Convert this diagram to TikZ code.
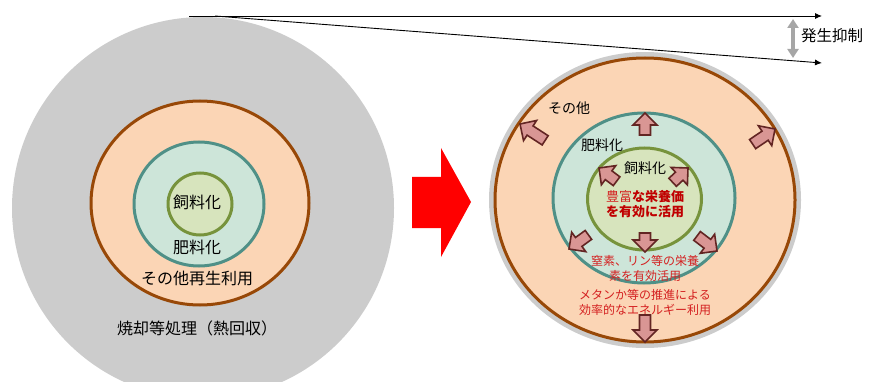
\documentclass[tikz,border=0pt]{standalone}
\usepackage{fontspec}
\setmainfont{Noto Sans CJK JP}
\usetikzlibrary{arrows.meta}
\definecolor{cgray}{HTML}{CCCCCC}
\definecolor{cpeach}{HTML}{FBD5B5}
\definecolor{cbrown}{HTML}{984807}
\definecolor{cteal}{HTML}{CDE5D9}
\definecolor{ctealb}{HTML}{4F9087}
\definecolor{cgreen}{HTML}{D7E4BD}
\definecolor{cgreenb}{HTML}{77933C}
\definecolor{cpink}{HTML}{D99694}
\definecolor{cdark}{HTML}{632523}
\definecolor{cred}{HTML}{D42020}
\definecolor{cdred}{HTML}{C00000}
\definecolor{carrgray}{HTML}{A6A6A6}
\tikzset{
  ring/.style={line width=3pt},
  lbl/.style={inner sep=0pt, font=\fontsize{16}{18}\selectfont},
  rlbl/.style={inner sep=0pt, font=\fontsize{14}{16}\selectfont},
  redlbl/.style={inner sep=0pt, text=cred, align=center, font=\fontsize{12}{15}\selectfont},
  barrowstyle/.style={fill=cpink, draw=cdark, line width=1.6pt, line join=miter},
  thinarrow/.style={line width=0.9pt, -{Latex[length=7pt,width=6pt]}},
}
\newcommand\barrow[3]{%
  \draw[barrowstyle, shift={#1}, rotate=#2] (0,0) -- (-12,12) -- (-12,5.5) -- (-#3,5.5) -- (-#3,-5.5) -- (-12,-5.5) -- (-12,-12) -- cycle;}
\begin{document}
\begin{tikzpicture}[x=1pt,y=-1pt]
\useasboundingbox (0,0) rectangle (869,382);
\clip (0,0) rectangle (869,382);
% left diagram
\fill[cgray] (203,208) circle [radius=191];
\filldraw[fill=cpeach, draw=cbrown, ring] (200,203) ellipse [x radius=109, y radius=102];
\filldraw[fill=cteal, draw=ctealb, ring] (199,204) ellipse [x radius=65, y radius=62];
\filldraw[fill=cgreen, draw=cgreenb, ring] (200,204) ellipse [x radius=32, y radius=31];
\node[lbl] (l1) at (197,202) {飼料化};
\node[lbl] (l2) at (197,247) {肥料化};
\node[lbl] (l3) at (197,278) {その他再生利用};
\node[lbl] (l4) at (197,328) {焼却等処理（熱回収）};
% top lines
\coordinate (s1) at (189,16);
\coordinate (s2) at (215,16);
\coordinate (e1) at (822,16);
\coordinate (e2) at (822,63);
\draw[thinarrow] (s1) -- (e1);
\draw[thinarrow] (s2) -- (e2);
\coordinate (g1) at (793,19);
\coordinate (g2) at (793,58);
\draw[carrgray, line width=3.5pt, {Triangle[length=9pt,width=11pt]}-{Triangle[length=9pt,width=11pt]}] (g1) -- (g2);
\node[lbl, anchor=west, font=\fontsize{15.5}{17}\selectfont] (hs) at (801,36) {発生抑制};
% red arrow
\fill[red] (412,177) -- (441,177) -- (441,148) -- (471,202) -- (441,257) -- (441,228) -- (412,228) -- cycle;
% right diagram
\fill[cgray] (645,200) ellipse [x radius=156, y radius=148];
\filldraw[fill=cpeach, draw=cbrown, ring] (645,200) ellipse [x radius=150, y radius=142];
\filldraw[fill=cteal, draw=ctealb, ring] (644,198) ellipse [x radius=91, y radius=85];
\filldraw[fill=cgreen, draw=cgreenb, ring] (644.5,199) ellipse [x radius=57, y radius=51];
\node[rlbl] (r1) at (569,108) {その他};
\node[rlbl] (r2) at (602,145) {肥料化};
\node[rlbl] (r3) at (645,168) {飼料化};
\node[redlbl, font=\fontsize{13}{15}\selectfont\bfseries, text=cdred] (r4) at (645,204.5) {{\mdseries\color{cred}豊富}な栄養価\\を有効に活用};
\node[redlbl] (r5) at (645,268.5) {窒素、リン等の栄養\\素を有効活用};
\node[redlbl] (r6) at (645,302) {メタンか等の推進による\\効率的なエネルギー利用};
% block arrows
\barrow{(645,113)}{90}{22}
\barrow{(520,124)}{147}{30}
\barrow{(775,129)}{34}{27}
\barrow{(599,168)}{143}{22}
\barrow{(688,168)}{43}{21}
\barrow{(645,252)}{-90}{19}
\barrow{(569,249)}{216}{24}
\barrow{(717,251)}{-37}{25}
\barrow{(645,342)}{-90}{27}
\end{tikzpicture}
\end{document}
